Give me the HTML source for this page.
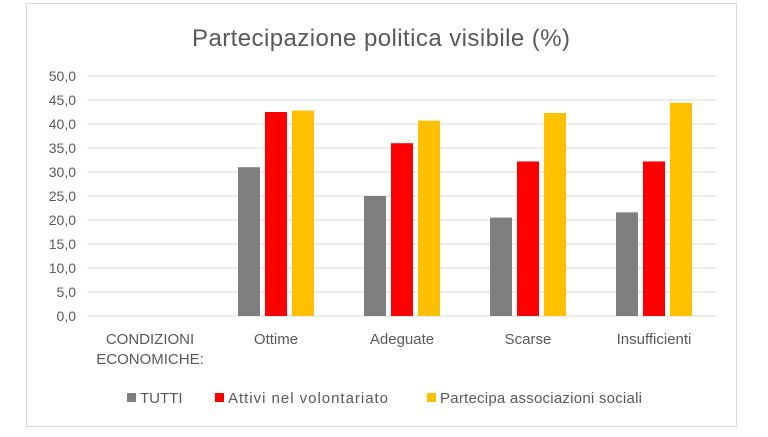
<!DOCTYPE html>
<html><head><meta charset="utf-8"><style>
body{margin:0;background:#fff;width:768px;height:432px;overflow:hidden;font-family:"Liberation Sans",sans-serif}
svg text{font-family:"Liberation Sans",sans-serif;fill:#595959}
</style></head><body>
<svg id="c" width="768" height="432">
<rect x="26.5" y="3.5" width="710" height="423" fill="#fff" stroke="#d9d9d9"/>
<text x="381" y="46" font-size="24" text-anchor="middle" textLength="378">Partecipazione politica visibile (%)</text>
<g id="grid"></g><g id="bars"></g><g id="xl"></g>
<g font-size="15">
<rect x="127" y="393" width="9" height="9" fill="#7f7f7f"/>
<text x="140" y="403">TUTTI</text>
<rect x="215" y="393" width="9" height="9" fill="#ff0000"/>
<text x="228" y="403" textLength="160">Attivi nel volontariato</text>
<rect x="427" y="393" width="9" height="9" fill="#ffc000"/>
<text x="440" y="403" textLength="202">Partecipa associazioni sociali</text>
</g>
</svg>
<script>
const categories=[["CONDIZIONI","ECONOMICHE:"],["Ottime"],["Adeguate"],["Scarse"],["Insufficienti"]];
const tutti=[null,31.0,25.0,20.5,21.6];
const attivi=[null,42.5,36.0,32.2,32.2];
const partecipa=[null,42.8,40.7,42.3,44.4];
const ticks=[0,5,10,15,20,25,30,35,40,45,50];
const NS="http://www.w3.org/2000/svg";
const x0=87,x1=717,y0=316,y1=76,ymax=50;
const y=v=>y0-(v/ymax)*(y0-y1);
const bw=(x1-x0)/categories.length;
function mk(t,a,p){const e=document.createElementNS(NS,t);for(const k in a)e.setAttribute(k,a[k]);p.appendChild(e);return e;}
const g=document.getElementById('grid');
ticks.forEach(t=>{
 const l=mk('line',{x1:x0,x2:x1,y1:y(t),y2:y(t),stroke:'#d9d9d9'},g);
 
 
 const tx=mk('text',{x:76,y:y(t)+5,'font-size':14,'text-anchor':'end'},g);
 tx.textContent=t.toFixed(1).replace('.',',');
 
 
});
const series=[[tutti,'#7f7f7f','tutti'],[attivi,'#ff0000','attivi'],[partecipa,'#ffc000','partecipa']];
const b=document.getElementById('bars'),w=22,gap=5;
categories.forEach((c,i)=>{
 const cx=x0+bw*(i+0.5);
 series.forEach((s,j)=>{
  const v=s[0][i]; if(v==null) return;
  const r=mk('rect',{x:cx+(j-1)*(w+gap)-w/2,y:y(v),width:w,height:y0-y(v),fill:s[1]},b);
  
  
 });
 c.forEach((line,k)=>{
  const t=mk('text',{x:cx,y:344+k*20,'font-size':15,'text-anchor':'middle'},document.getElementById('xl'));
  t.textContent=line;
  
  
 });
});
</script>
</body></html>
